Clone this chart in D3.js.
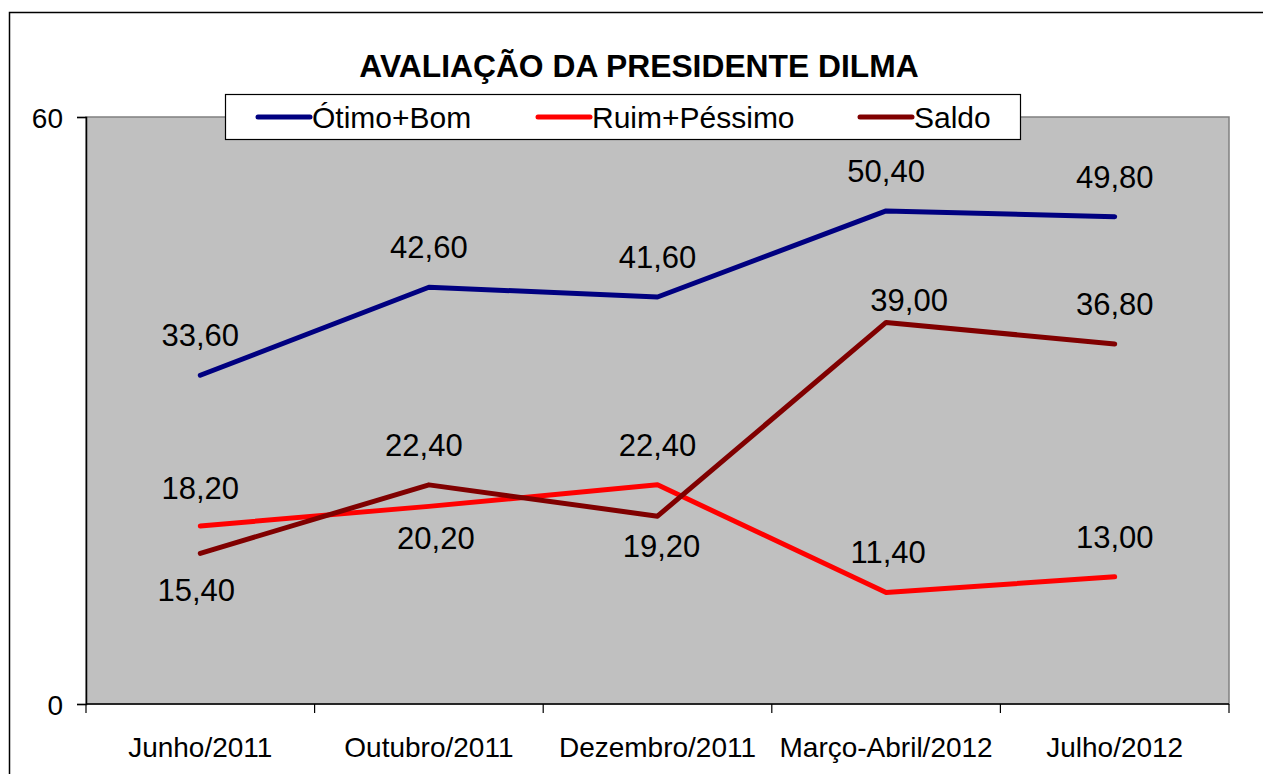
<!DOCTYPE html>
<html>
<head>
<meta charset="utf-8">
<script src="https://d3js.org/d3.v7.min.js"></script>
<style>
    body { margin: 0; background: #fff; }
    text { font-family: "Liberation Sans", Arial, sans-serif; fill: #000; }
</style>
</head>
<body>
<div id="chart"></div>
<script>
    // chart values
    var categories = ["Junho/2011", "Outubro/2011", "Dezembro/2011", "Março-Abril/2012", "Julho/2012"];
    var otimoBom = [33.6, 42.6, 41.6, 50.4, 49.8];
    var ruimPessimo = [18.2, 20.2, 22.4, 11.4, 13.0];
    var saldo = [15.4, 22.4, 19.2, 39.0, 36.8];
    var yTicks = [0, 60];

    // label nudges relative to the point (baseline), in px
    var otimoDx = [0, 0, 0, 0, 0], otimoDy = [-29, -29, -29, -29, -29];
    var ruimDx = [0, 7, 0, 2, 0], ruimDy = [-27, 43, -29, -29, -29];
    var saldoDx = [-4, -5, 4, 23, 0], saldoDy = [48, -29, 41, -11, -29];

    var series = [
        {name: "Ótimo+Bom", values: otimoBom, dx: otimoDx, dy: otimoDy, color: "#000080"},
        {name: "Ruim+Péssimo", values: ruimPessimo, dx: ruimDx, dy: ruimDy, color: "#FF0000"},
        {name: "Saldo", values: saldo, dx: saldoDx, dy: saldoDy, color: "#800000"}
    ];

    var W = 1263, H = 774;
    var plot = {left: 86, right: 1229, top: 117, bottom: 704};

    var svg = d3.select("#chart").append("svg")
        .attr("width", W)
        .attr("height", H);

    // outer frame of the chart
    svg.append("rect")
        .attr("x", 9.5).attr("y", 12.5)
        .attr("width", 1300).attr("height", 800)
        .attr("fill", "#fff")
        .attr("stroke", "#000")
        .attr("stroke-width", 1.5);

    var x = d3.scaleBand()
        .domain(categories)
        .range([plot.left, plot.right]);

    var y = d3.scaleLinear()
        .domain([0, 60])
        .range([plot.bottom, plot.top]);

    // gray plot area
    svg.append("rect")
        .attr("x", plot.left).attr("y", plot.top)
        .attr("width", plot.right - plot.left)
        .attr("height", plot.bottom - plot.top)
        .attr("fill", "#C0C0C0")
        .attr("stroke", "#808080")
        .attr("stroke-width", 1.5);

    // y axis
    var yAxis = svg.append("g")
        .attr("transform", "translate(" + plot.left + ",0)")
        .call(d3.axisLeft(y).tickValues(yTicks).tickSize(9).tickPadding(14).tickFormat(d3.format("d")));
    yAxis.select(".domain").attr("stroke", "#000").attr("stroke-width", 1.5);
    yAxis.selectAll(".tick line").attr("stroke", "#000").attr("stroke-width", 1.2);
    yAxis.selectAll(".tick text")
        .style("font-size", "28px")
        .attr("dy", "0.36em")
        .attr("fill", "#000");

    // x axis, ticks on the band edges
    var edges = categories.map(function (c) { return x(c); }).concat([plot.right]);
    var xg = svg.append("g");
    xg.append("line")
        .attr("x1", plot.left).attr("x2", plot.right)
        .attr("y1", plot.bottom).attr("y2", plot.bottom)
        .attr("stroke", "#000").attr("stroke-width", 1.5);
    xg.selectAll("line.tk")
        .data(edges)
        .enter().append("line")
        .attr("class", "tk")
        .attr("x1", function (d) { return d; })
        .attr("x2", function (d) { return d; })
        .attr("y1", plot.bottom)
        .attr("y2", plot.bottom + 9)
        .attr("stroke", "#000").attr("stroke-width", 1.2);
    xg.selectAll("text")
        .data(categories)
        .enter().append("text")
        .attr("x", function (d) { return x(d) + x.bandwidth() / 2; })
        .attr("y", 757)
        .attr("text-anchor", "middle")
        .style("font-size", "28px")
        .text(function (d) { return d; });

    // lines
    var line = d3.line()
        .x(function (d, i) { return x(categories[i]) + x.bandwidth() / 2; })
        .y(function (d) { return y(d); });

    svg.selectAll("path.serie")
        .data(series)
        .enter().append("path")
        .attr("class", "serie")
        .attr("d", function (s) { return line(s.values); })
        .attr("fill", "none")
        .attr("stroke", function (s) { return s.color; })
        .attr("stroke-width", 5)
        .attr("stroke-linejoin", "round")
        .attr("stroke-linecap", "round");

    // value labels
    var fmt = function (v) { return d3.format(".2f")(v).replace(".", ","); };
    series.forEach(function (s) {
        svg.append("g").selectAll("text")
            .data(s.values)
            .enter().append("text")
            .attr("x", function (d, i) { return x(categories[i]) + x.bandwidth() / 2 + s.dx[i]; })
            .attr("y", function (d, i) { return y(d) + s.dy[i]; })
            .attr("text-anchor", "middle")
            .style("font-size", "31px")
            .text(fmt);
    });

    // title
    svg.append("text")
        .attr("x", 639)
        .attr("y", 77)
        .attr("text-anchor", "middle")
        .style("font-size", "31.8px")
        .style("font-weight", "bold")
        .text("AVALIAÇÃO DA PRESIDENTE DILMA");

    // legend
    var legend = svg.append("g");
    legend.append("rect")
        .attr("x", 225.5).attr("y", 94.5)
        .attr("width", 795).attr("height", 45)
        .attr("fill", "#fff")
        .attr("stroke", "#000")
        .attr("stroke-width", 1.2);
    var legendX = [258, 538, 860];
    var items = legend.selectAll("g.item")
        .data(series)
        .enter().append("g")
        .attr("class", "item")
        .attr("transform", function (d, i) { return "translate(" + legendX[i] + ",117)"; });
    items.append("line")
        .attr("x1", 0).attr("x2", 52)
        .attr("stroke", function (d) { return d.color; })
        .attr("stroke-width", 5)
        .attr("stroke-linecap", "round");
    items.append("text")
        .attr("x", 54)
        .attr("dy", "0.36em")
        .style("font-size", "30px")
        .text(function (d) { return d.name; });
</script>
</body>
</html>
